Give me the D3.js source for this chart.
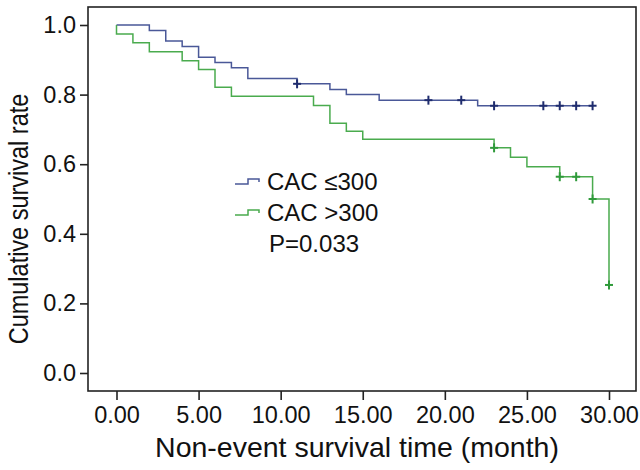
<!DOCTYPE html>
<html>
<head>
<meta charset="utf-8">
<script src="https://cdn.jsdelivr.net/npm/d3@7/dist/d3.min.js"></script>
<style>
  html, body { margin: 0; padding: 0; background: #ffffff; }
  svg { display: block; }
  text { font-family: "Liberation Sans", Arial, Helvetica, sans-serif; fill: #111; }
</style>
</head>
<body>
<svg id="chart" width="640" height="470"></svg>
<script>
// ---- data ----
const xTicks = [0, 5, 10, 15, 20, 25, 30];
const xTickLabels = ["0.00", "5.00", "10.00", "15.00", "20.00", "25.00", "30.00"];
const yTicks = [0, 0.2, 0.4, 0.6, 0.8, 1.0];
const yTickLabels = ["0.0", "0.2", "0.4", "0.6", "0.8", "1.0"];

const seriesNames = ["CAC \u2264300", "CAC >300"];

// CAC <=300 step curve
const lowTimes = [0, 2, 3, 4, 5, 6, 7, 8, 11, 13, 14, 16, 22, 29];
const lowSurv  = [1.0, 0.984, 0.954, 0.938, 0.907, 0.892, 0.877, 0.846, 0.831, 0.815, 0.800, 0.784, 0.768, 0.768];
const lowCensored = [11, 19, 21, 23, 26, 27, 28, 29];

// CAC >300 step curve
const highTimes = [0, 0, 1, 2, 4, 5, 6, 7, 12, 13, 14, 15, 23, 24, 25, 27, 29, 30];
const highSurv  = [1.0, 0.974, 0.949, 0.923, 0.897, 0.872, 0.821, 0.795, 0.769, 0.718, 0.695, 0.672, 0.647, 0.620, 0.593, 0.564, 0.500, 0.253];
const highCensored = [23, 27, 28, 29, 30];

const pText = "P=0.033";
const xTitle = "Non-event survival time (month)";
const yTitle = "Cumulative survival rate";

// ---- layout ----
const frame = { left: 88, top: 7, right: 636, bottom: 391 };
const x = d3.scaleLinear().domain([0, 30]).range([116.5, 609]);
const y = d3.scaleLinear().domain([0, 1]).range([373, 25]);

const colors = { low: "#4a5898", high: "#4aab4e" };
const markColors = { low: "#1f2c6e", high: "#2f9a3a" };
const fontFamily = "'Liberation Sans', Arial, Helvetica, sans-serif";

const svg = d3.select("#chart");

// frame
svg.append("rect")
  .attr("x", frame.left).attr("y", frame.top)
  .attr("width", frame.right - frame.left).attr("height", frame.bottom - frame.top)
  .attr("fill", "none").attr("stroke", "#222").attr("stroke-width", 1.6);

// x axis
const xAxis = d3.axisBottom(x).tickValues(xTicks)
  .tickFormat((d, i) => xTickLabels[i]).tickSize(9).tickPadding(6);
const gx = svg.append("g").attr("transform", `translate(0,${frame.bottom})`).call(xAxis);
gx.select(".domain").remove();
gx.selectAll(".tick line").attr("stroke", "#222").attr("stroke-width", 1.6);
gx.selectAll(".tick text").attr("font-size", 23.5).attr("fill", "#111")
  .style("font-family", fontFamily);

// y axis
const yAxis = d3.axisLeft(y).tickValues(yTicks)
  .tickFormat((d, i) => yTickLabels[i]).tickSize(8).tickPadding(4);
const gy = svg.append("g").attr("transform", `translate(${frame.left},0)`).call(yAxis);
gy.select(".domain").remove();
gy.selectAll(".tick line").attr("stroke", "#222").attr("stroke-width", 1.6);
gy.selectAll(".tick text").attr("font-size", 23.5).attr("fill", "#111")
  .style("font-family", fontFamily);

// titles
svg.append("text").attr("x", 357).attr("y", 457)
  .attr("text-anchor", "middle").attr("font-size", 28.5).text(xTitle);
svg.append("text").attr("transform", `translate(28,219) scale(1.18,1) rotate(-90)`)
  .attr("text-anchor", "middle").attr("font-size", 23.5).text(yTitle);

// curves
const line = d3.line().x(d => x(d[0])).y(d => y(d[1])).curve(d3.curveStepAfter);
function stepValue(times, surv, t) {
  let v = surv[0];
  for (let i = 0; i < times.length; i++) if (times[i] <= t) v = surv[i];
  return v;
}
function drawCurve(times, surv, censored, color, mcolor) {
  const pts = times.map((t, i) => [t, surv[i]]);
  svg.append("path").attr("d", line(pts))
    .attr("fill", "none").attr("stroke", color).attr("stroke-width", 1.5);
  const g = svg.append("g");
  censored.forEach(t => {
    const cx = x(t), cy = y(stepValue(times, surv, t));
    g.append("line").attr("x1", cx).attr("x2", cx).attr("y1", cy - 4.5).attr("y2", cy + 4.5)
      .attr("stroke", mcolor).attr("stroke-width", 2);
    g.append("line").attr("x1", cx - 4).attr("x2", cx + 4).attr("y1", cy).attr("y2", cy)
      .attr("stroke", mcolor).attr("stroke-width", 2);
  });
}
drawCurve(lowTimes, lowSurv, lowCensored, colors.low, markColors.low);
drawCurve(highTimes, highSurv, highCensored, colors.high, markColors.high);

// legend
const legend = svg.append("g").attr("transform", "translate(235,0)");
const legendRows = [
  { name: seriesNames[0], color: colors.low, y: 190 },
  { name: seriesNames[1], color: colors.high, y: 221 }
];
legendRows.forEach(r => {
  legend.append("path")
    .attr("d", `M0,${r.y - 6} H13 V${r.y - 11} H24 V${r.y - 8}`)
    .attr("fill", "none").attr("stroke", r.color).attr("stroke-width", 1.5);
  legend.append("text").attr("x", 32).attr("y", r.y).attr("font-size", 24).text(r.name);
});
legend.append("text").attr("x", 34).attr("y", 252).attr("font-size", 24).text(pText);
</script>
</body>
</html>
